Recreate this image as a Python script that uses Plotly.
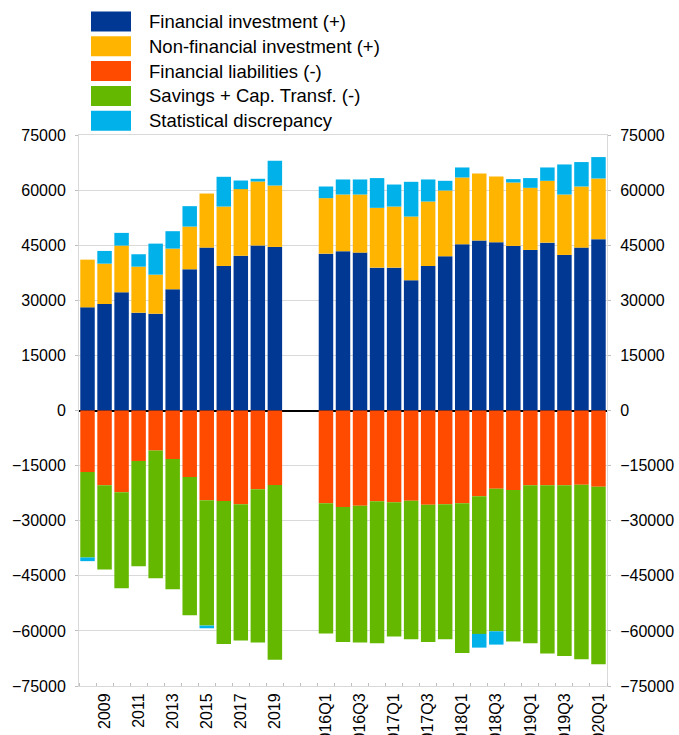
import plotly.graph_objects as go

# Annual periods and quarterly periods shown on the x axis
annual_periods = ["2008", "2009", "2010", "2011", "2012", "2013",
                  "2014", "2015", "2016", "2017", "2018", "2019"]
quarter_periods = ["2016Q1", "2016Q2", "2016Q3", "2016Q4",
                   "2017Q1", "2017Q2", "2017Q3", "2017Q4",
                   "2018Q1", "2018Q2", "2018Q3", "2018Q4",
                   "2019Q1", "2019Q2", "2019Q3", "2019Q4",
                   "2020Q1"]

# Financial investment (+)
fin_inv_annual = [28090, 28990, 32180, 26620, 26340, 33000,
                  38450, 44340, 39350, 42160, 44890, 44530]
fin_inv_quarter = [42700, 43360, 42980, 38890, 38890, 35450, 39350, 42000,
                   45270, 46250, 45810, 44800, 43710, 45700, 42350, 44340,
                   46630]

# Non-financial investment (+)
nonfin_inv_annual = [12980, 10990, 12710, 12540, 10640, 11070,
                     11620, 14730, 16170, 18110, 17450, 16720]
nonfin_inv_quarter = [15110, 15440, 15820, 16280, 16630, 17350, 17540, 17890,
                      18160, 18270, 17890, 17270, 16910, 16830, 16450, 16640,
                      16530]

# Financial liabilities (-)
fin_liab_annual = [-16740, -20370, -22280, -13740, -10910, -13200,
                   -18110, -24460, -24650, -25550, -21460, -20290]
fin_liab_quarter = [-25280, -26290, -25910, -24730, -25010, -24540, -25630,
                    -25550, -25280, -23370, -21270, -21650, -20370, -20370,
                    -20370, -20180, -20730]

# Savings + capital transfers (-)
savings_annual = [-23270, -22910, -26090, -28630, -34740, -35450,
                  -37630, -34090, -38890, -37090, -41730, -47530]
savings_quarter = [-35450, -36710, -37280, -38640, -36540, -37740, -37370,
                   -36730, -40720, -37440, -38830, -41260, -43000, -45810,
                   -46440, -47560, -48370]

# Statistical discrepancy
stat_disc_annual = [-1000, 3460, 3460, 3380, 8450, 4740,
                    5560, -740, 8100, 2340, 740, 6740]
stat_disc_quarter = [3170, 4090, 4090, 8100, 6000, 9460, 6000, 2640,
                     2730, -3740, -3630, 920, 2650, 3630, 8180, 6650, 5830]

series_names = ["Financial investment (+)", "Non-financial investment (+)",
                "Financial liabilities (-)", "Savings + Cap. Transf. (-)",
                "Statistical discrepancy"]
series_colors = ["#003894", "#FFB400", "#FF4B00", "#65B800", "#00B1EA"]

# Two empty slots separate the annual block from the quarterly block
GAP = 2
n_a = len(annual_periods)
x_pos = list(range(n_a)) + [n_a + GAP + i for i in range(len(quarter_periods))]
labels = annual_periods + quarter_periods

series_values = [
    fin_inv_annual + fin_inv_quarter,
    nonfin_inv_annual + nonfin_inv_quarter,
    fin_liab_annual + fin_liab_quarter,
    savings_annual + savings_quarter,
    stat_disc_annual + stat_disc_quarter,
]

fig = go.Figure()
for name, color, vals in zip(series_names, series_colors, series_values):
    fig.add_trace(go.Bar(
        x=x_pos, y=vals, name=name, marker_color=color,
        marker_line_width=0, showlegend=False,
        customdata=labels,
        hovertemplate="%{customdata}: %{y}<extra>" + name + "</extra>",
    ))

# every second period is labelled
tick_idx = [i for i in range(n_a) if i % 2 == 1] + \
           [n_a + i for i in range(len(quarter_periods)) if i % 2 == 0]
tickvals = [x_pos[i] for i in tick_idx]
ticktext = [labels[i] for i in tick_idx]

FONT = "Liberation Sans, Arial, sans-serif"
grid = "#d9d9d9"
x_max = x_pos[-1]

fig.update_layout(
    barmode="relative",
    bargap=0.15,
    width=679, height=735, autosize=False,
    margin=dict(l=79, r=72, t=135, b=49),
    plot_bgcolor="white", paper_bgcolor="white",
    font=dict(family=FONT, size=16, color="#000000"),
    xaxis=dict(
        range=[-0.5, x_max + 0.5],
        tickvals=tickvals, ticktext=ticktext, tickangle=-90,
        ticks="", showgrid=False, zeroline=False,
        showline=True, linecolor=grid, linewidth=1, mirror=True,
        minor=dict(ticks="inside", tick0=-0.5, dtick=1, ticklen=3,
                   tickcolor="#bfbfbf", showgrid=False),
        tickfont=dict(size=16), automargin=False,
    ),
    yaxis=dict(
        range=[-75000, 75000], dtick=15000, tick0=0,
        showgrid=True, gridcolor=grid, gridwidth=1,
        zeroline=True, zerolinecolor="#000000", zerolinewidth=1.5,
        showline=True, linecolor=grid, linewidth=1,
        ticks="outside", ticklen=3, tickcolor="#bfbfbf",
        tickformat="d", tickfont=dict(size=16), automargin=False,
        ticklabelstandoff=6,
    ),
    yaxis2=dict(
        range=[-75000, 75000], dtick=15000, tick0=0,
        overlaying="y", side="right", showgrid=False, zeroline=False,
        showline=True, linecolor=grid, linewidth=1,
        ticks="outside", ticklen=3, tickcolor="#bfbfbf",
        tickformat="d", tickfont=dict(size=16), automargin=False,
        ticklabelstandoff=6,
    ),
)

# keep the right-hand axis alive with an invisible trace
fig.add_trace(go.Scatter(x=[x_pos[0]], y=[0], yaxis="y2", mode="markers",
                         marker=dict(opacity=0), showlegend=False,
                         hoverinfo="skip"))

# Legend drawn as wide swatches with labels above the plot area
plot_l, plot_r, plot_t, plot_b = 79, 607, 135, 686
def px_x(p):
    return (p - plot_l) / (plot_r - plot_l)
def px_y(p):
    return (plot_b - p) / (plot_b - plot_t)

row_h = 24.8
first_row = 21.5
for k, (name, color) in enumerate(zip(series_names, series_colors)):
    cy = first_row + k * row_h
    fig.add_shape(type="rect", xref="paper", yref="paper",
                  x0=px_x(91), x1=px_x(131), y0=px_y(cy + 10), y1=px_y(cy - 10),
                  fillcolor=color, line_width=0)
    fig.add_annotation(xref="paper", yref="paper", x=px_x(147), y=px_y(cy),
                       text=name, showarrow=False, xanchor="left",
                       yanchor="middle", font=dict(size=18.5, family=FONT))

fig.write_html("out.html")
